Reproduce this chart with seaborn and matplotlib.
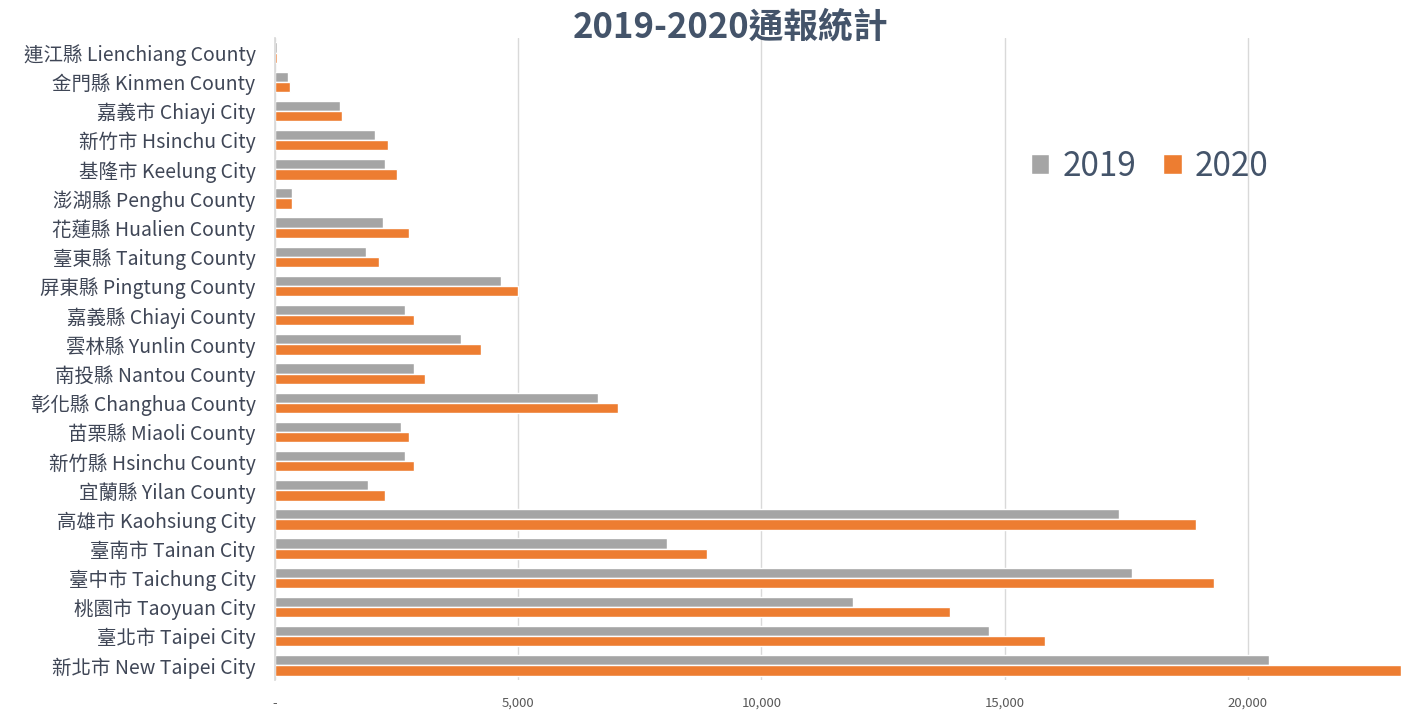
import matplotlib
matplotlib.use("Agg")
import matplotlib.pyplot as plt
import seaborn as sns
import pandas as pd
from matplotlib.ticker import FuncFormatter

# 縣市 (由上到下)
counties = [
    "連江縣 Lienchiang County", "金門縣 Kinmen County", "嘉義市 Chiayi City",
    "新竹市 Hsinchu City", "基隆市 Keelung City", "澎湖縣 Penghu County",
    "花蓮縣 Hualien County", "臺東縣 Taitung County", "屏東縣 Pingtung County",
    "嘉義縣 Chiayi County", "雲林縣 Yunlin County", "南投縣 Nantou County",
    "彰化縣 Changhua County", "苗栗縣 Miaoli County", "新竹縣 Hsinchu County",
    "宜蘭縣 Yilan County", "高雄市 Kaohsiung City", "臺南市 Tainan City",
    "臺中市 Taichung City", "桃園市 Taoyuan City", "臺北市 Taipei City",
    "新北市 New Taipei City",
]
v2019 = [35, 275, 1340, 2065, 2257, 350, 2222, 1875, 4650, 2668, 3815,
         2860, 6650, 2600, 2668, 1914, 17350, 8050, 17610, 11890, 14670, 20430]
v2020 = [50, 315, 1380, 2330, 2518, 350, 2751, 2140, 5000, 2860, 4232,
         3093, 7060, 2750, 2860, 2257, 18930, 8890, 19300, 13870, 15840, 23150]
years = ["2019", "2020"]
colors = ["#A5A5A5", "#ED7D31"]

df = pd.DataFrame({
    "county": counties * 2,
    "value": v2019 + v2020,
    "year": [years[0]] * len(counties) + [years[1]] * len(counties),
})

sns.set_theme(style="white")
plt.rcParams["font.family"] = ["Noto Sans CJK TC", "DejaVu Sans"]

fig = plt.figure(figsize=(14.13, 7.13), dpi=100)
ax = fig.add_axes([0.1946, 0.0463, 0.7969, 0.9004])

sns.barplot(data=df, y="county", x="value", hue="year", orient="h",
            palette=colors, saturation=1, width=0.7, gap=0, ax=ax, legend=True)

ax.set_xlim(0, 23150)
ax.set_xticks([0, 5000, 10000, 15000, 20000])
ax.xaxis.set_major_formatter(FuncFormatter(lambda v, p: "-" if v == 0 else f"{int(v):,}"))
ax.grid(axis="x", color="#D9D9D9", linewidth=1)
ax.set_axisbelow(True)
for s in ["top", "right", "bottom"]:
    ax.spines[s].set_visible(False)
ax.spines["left"].set_color("#D9D9D9")
ax.set_xlabel("")
ax.set_ylabel("")
ax.tick_params(axis="y", length=0, pad=14, labelsize=14, labelcolor="#3F4656")
ax.tick_params(axis="x", length=0, pad=12, labelsize=9.5, labelcolor="#595959")

leg = ax.legend(loc="center", bbox_to_anchor=(0.777, 0.80), ncol=2, frameon=False,
                fontsize=24, handlelength=0.55, handleheight=0.55, handletextpad=0.4,
                columnspacing=0.8, labelcolor="#44546A")

fig.text(0.517, 0.962, "2019-2020通報統計", ha="center", va="center",
         fontsize=25, fontweight="bold", color="#44546A")

fig.savefig("out.png", dpi=100)
